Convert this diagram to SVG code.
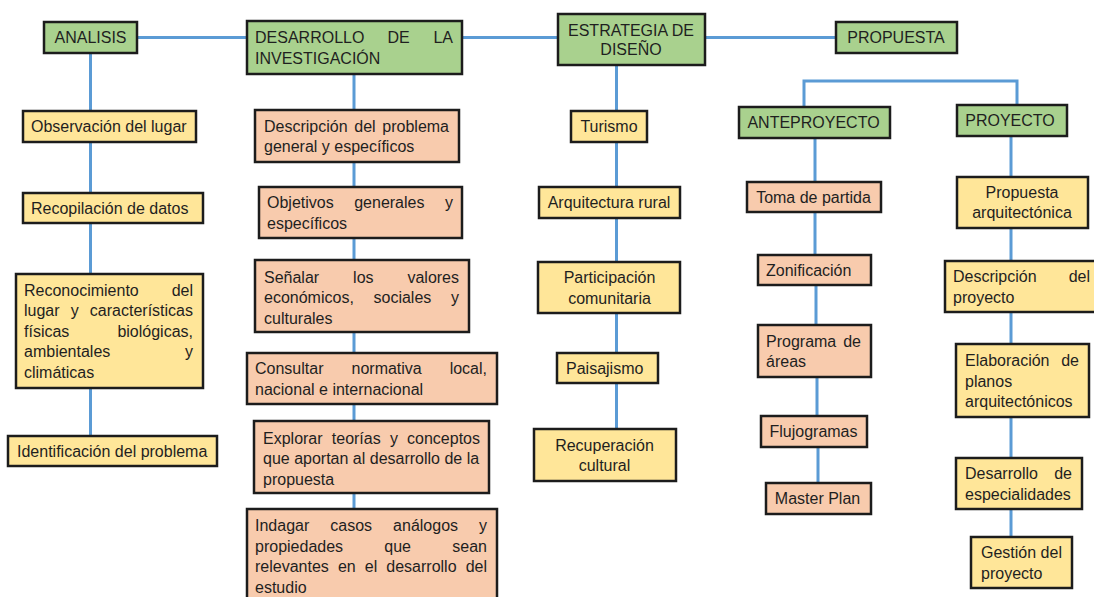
<svg xmlns="http://www.w3.org/2000/svg" width="1094" height="597" viewBox="0 0 1094 597">
<style>
rect.g{fill:#A9D18E;stroke:#1c1c1c;stroke-width:2.5}
rect.y{fill:#FFE699;stroke:#1c1c1c;stroke-width:2.5}
rect.s{fill:#F8CBAD;stroke:#1c1c1c;stroke-width:2.5}
text{font-family:"Liberation Sans",Arial,sans-serif;font-size:16px;fill:#1f1f1f}
.c{text-anchor:middle}
.e{text-anchor:end}
#connectors path{fill:none;stroke:#5B9BD5;stroke-width:3}
</style>
<rect width="1094" height="597" fill="#ffffff"/>
<g id="connectors">
<path d="M137,37.5 H247 M462,37.5 H558 M705,37.5 H836"/>
<path d="M90.5,53 V111 M90.5,142 V193 M90.5,223 V274 M90.5,388 V436"/>
<path d="M354,74 V110 M354,162 V187 M354,238 V260 M354,332 V353 M354,404 V421 M354,493 V509"/>
<path d="M616.5,65 V111 M616.5,142 V187 M616.5,218 V262 M616.5,313 V353 M616.5,383 V429"/>
<path d="M804,107 V81 H1017 V105"/>
<path d="M815,138 V182 M815,212 V255 M816,285 V325 M817,377 V416 M818,447 V483"/>
<path d="M1011,136 V177 M1011,228 V261 M1011,312 V344 M1011,417 V458 M1011,509 V537"/>
</g>
<g id="analisis"><rect class="g" x="44" y="22" width="93" height="31"/><text class="c" x="90.5" y="43">ANALISIS</text></g>
<g id="observacion"><rect class="y" x="23" y="111" width="173" height="31"/><text x="31" y="132">Observación del lugar</text></g>
<g id="recopilacion"><rect class="y" x="23" y="193" width="180" height="30"/><text x="31" y="213.5">Recopilación de datos</text></g>
<g id="reconocimiento"><rect class="y" x="16" y="274" width="187" height="114"/>
<text x="24" y="295.5">Reconocimiento</text><text class="e" x="193" y="295.5">del</text>
<text x="24" y="316">lugar</text><text x="70.7" y="316">y</text><text class="e" x="193" y="316">características</text>
<text x="24" y="336.5">físicas</text><text class="e" x="193" y="336.5">biológicas,</text>
<text x="24" y="357">ambientales</text><text class="e" x="193" y="357">y</text>
<text x="24" y="377.5">climáticas</text></g>
<g id="identificacion"><rect class="y" x="8" y="436" width="209" height="30"/><text x="17" y="456.5">Identificación del problema</text></g>

<g id="desarrollo"><rect class="g" x="247" y="21" width="215" height="53"/>
<text x="255" y="43">DESARROLLO</text><text x="387.5" y="43">DE</text><text class="e" x="453" y="43">LA</text>
<text x="255" y="63.5">INVESTIGACIÓN</text></g>
<g id="descripcion-problema"><rect class="s" x="255" y="110" width="204" height="52"/>
<text x="264" y="131.5">Descripción</text><text x="354.3" y="131.5">del</text><text class="e" x="449" y="131.5">problema</text>
<text x="264" y="152">general y específicos</text></g>
<g id="objetivos"><rect class="s" x="259" y="187" width="203" height="51"/>
<text x="267" y="208">Objetivos</text><text x="354.2" y="208">generales</text><text class="e" x="453" y="208">y</text>
<text x="267" y="228.5">específicos</text></g>
<g id="senalar"><rect class="s" x="255" y="260" width="214" height="72"/>
<text x="264" y="282.5">Señalar</text><text x="353.1" y="282.5">los</text><text class="e" x="459" y="282.5">valores</text>
<text x="264" y="303">económicos,</text><text x="373.5" y="303">sociales</text><text class="e" x="459" y="303">y</text>
<text x="264" y="323.5">culturales</text></g>
<g id="consultar"><rect class="s" x="247" y="353" width="250" height="51"/>
<text x="255" y="374">Consultar</text><text x="351.5" y="374">normativa</text><text class="e" x="487" y="374">local,</text>
<text x="255" y="394.5">nacional e internacional</text></g>
<g id="explorar"><rect class="s" x="254" y="421" width="235" height="72"/>
<text x="263" y="443.5">Explorar</text><text x="331.8" y="443.5">teorías</text><text x="389.9" y="443.5">y</text><text class="e" x="480" y="443.5">conceptos</text>
<text x="263" y="464">que aportan al desarrollo de la</text>
<text x="263" y="484.5">propuesta</text></g>
<g id="indagar"><rect class="s" x="247" y="509" width="250" height="100"/>
<text x="255" y="531">Indagar</text><text x="330.3" y="531">casos</text><text x="393.1" y="531">análogos</text><text class="e" x="487" y="531">y</text>
<text x="255" y="551.5">propiedades</text><text x="384.3" y="551.5">que</text><text class="e" x="487" y="551.5">sean</text>
<text x="255" y="572">relevantes</text><text x="337.9" y="572">en</text><text x="364.8" y="572">el</text><text x="386.3" y="572">desarrollo</text><text class="e" x="487" y="572">del</text>
<text x="255" y="592.5">estudio</text></g>

<g id="estrategia"><rect class="g" x="558" y="14" width="147" height="51"/>
<text class="c" x="631" y="35.5">ESTRATEGIA DE</text><text class="c" x="631" y="55">DISEÑO</text></g>
<g id="turismo"><rect class="y" x="571" y="111" width="76" height="31"/><text class="c" x="609" y="132">Turismo</text></g>
<g id="arquitectura-rural"><rect class="y" x="539" y="187" width="141" height="31"/><text class="c" x="609" y="208">Arquitectura rural</text></g>
<g id="participacion"><rect class="y" x="538" y="262" width="142" height="51"/>
<text class="c" x="609.5" y="283">Participación</text><text class="c" x="609.5" y="303.5">comunitaria</text></g>
<g id="paisajismo"><rect class="y" x="557" y="353" width="101" height="30"/><text x="566" y="373.5">Paisajismo</text></g>
<g id="recuperacion"><rect class="y" x="534" y="429" width="142" height="52"/>
<text class="c" x="604.5" y="450.5">Recuperación</text><text class="c" x="604.5" y="471">cultural</text></g>

<g id="propuesta"><rect class="g" x="836" y="22" width="121" height="31"/><text class="c" x="896" y="43">PROPUESTA</text></g>

<g id="anteproyecto"><rect class="g" x="739" y="107" width="151" height="31"/><text class="c" x="813.5" y="128">ANTEPROYECTO</text></g>
<g id="toma-partida"><rect class="s" x="747" y="182" width="134" height="30"/><text class="c" x="813.5" y="202.5">Toma de partida</text></g>
<g id="zonificacion"><rect class="s" x="758" y="255" width="113" height="30"/><text x="766" y="275.5">Zonificación</text></g>
<g id="programa"><rect class="s" x="758" y="325" width="113" height="52"/>
<text x="766" y="346.5">Programa</text><text class="e" x="861" y="346.5">de</text>
<text x="766" y="367">áreas</text></g>
<g id="flujogramas"><rect class="s" x="761" y="416" width="106" height="31"/><text class="c" x="813.5" y="437">Flujogramas</text></g>
<g id="master-plan"><rect class="s" x="766" y="483" width="105" height="31"/><text class="c" x="817.5" y="504">Master Plan</text></g>

<g id="proyecto"><rect class="g" x="957" y="105" width="110" height="31"/><text class="c" x="1010" y="126">PROYECTO</text></g>
<g id="propuesta-arq"><rect class="y" x="957" y="177" width="131" height="51"/>
<text class="c" x="1022" y="197.5">Propuesta</text><text class="c" x="1022" y="218">arquitectónica</text></g>
<g id="descripcion-proyecto"><rect class="y" x="945" y="261" width="160" height="51"/>
<text x="953" y="282">Descripción</text><text class="e" x="1090" y="282">del</text>
<text x="953" y="302.5">proyecto</text></g>
<g id="elaboracion"><rect class="y" x="956" y="344" width="133" height="73"/>
<text x="965" y="366">Elaboración</text><text class="e" x="1079" y="366">de</text>
<text x="965" y="386.5">planos</text>
<text x="965" y="407">arquitectónicos</text></g>
<g id="desarrollo-especialidades"><rect class="y" x="956" y="458" width="126" height="51"/>
<text x="965" y="479">Desarrollo</text><text class="e" x="1072" y="479">de</text>
<text x="965" y="499.5">especialidades</text></g>
<g id="gestion"><rect class="y" x="971" y="537" width="101" height="51"/>
<text x="981" y="558">Gestión del</text>
<text x="981" y="578.5">proyecto</text></g>
</svg>
